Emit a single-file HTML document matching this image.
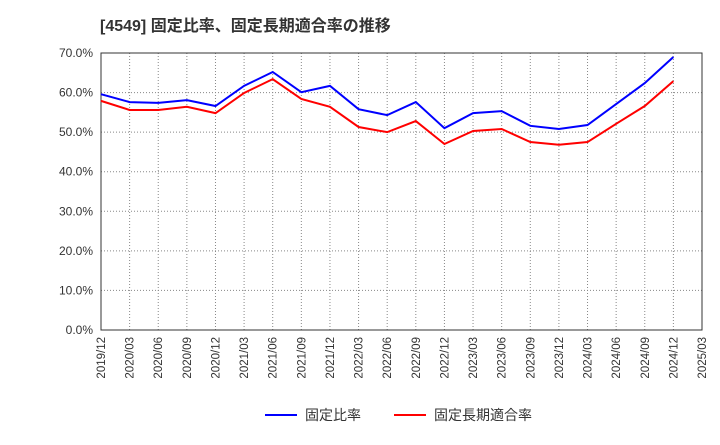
<!DOCTYPE html>
<html><head><meta charset="utf-8"><style>
body{margin:0;background:#fff;width:720px;height:440px;overflow:hidden;font-family:"Liberation Sans","Noto Sans CJK JP",sans-serif;}
</style></head><body>
<svg id="chart" width="720" height="440" xmlns="http://www.w3.org/2000/svg">
<text x="100" y="31" font-size="16" font-weight="bold" fill="#333" font-family="Liberation Sans, Noto Sans CJK JP, sans-serif">[4549]  固定比率、固定長期適合率の推移</text>
<g id="grid"></g><g id="axes"></g><g id="series"></g>
<g>
<line x1="265" y1="415" x2="297" y2="415" stroke="#0000ff" stroke-width="2"/>
<text x="305" y="420" font-size="14" fill="#333" font-family="Liberation Sans, Noto Sans CJK JP, sans-serif">固定比率</text>
<line x1="394" y1="415" x2="426" y2="415" stroke="#ff0000" stroke-width="2"/>
<text x="434" y="420" font-size="14" fill="#333" font-family="Liberation Sans, Noto Sans CJK JP, sans-serif">固定長期適合率</text>
</g>
</svg>
<script>
const categories=["2019/12","2020/03","2020/06","2020/09","2020/12","2021/03","2021/06","2021/09","2021/12","2022/03","2022/06","2022/09","2022/12","2023/03","2023/06","2023/09","2023/12","2024/03","2024/06","2024/09","2024/12","2025/03"];
const fixedRatio=[59.6,57.6,57.4,58.1,56.6,61.7,65.2,60.1,61.7,55.8,54.3,57.6,51.0,54.8,55.3,51.6,50.8,51.8,57.1,62.4,69.0];
const longTermRatio=[57.9,55.6,55.6,56.4,54.8,59.9,63.4,58.4,56.4,51.3,50.0,52.8,47.0,50.3,50.8,47.5,46.8,47.5,52.1,56.6,62.9];
const yTicks=[0,10,20,30,40,50,60,70];
const NS="http://www.w3.org/2000/svg";
const L=101,R=702,T=53,B=330;
const xS=i=>L+(R-L)*i/(categories.length-1);
const yS=v=>B-(B-T)*v/70;
function mk(tag,attrs,parent){const e=document.createElementNS(NS,tag);for(const k in attrs)e.setAttribute(k,attrs[k]);parent.appendChild(e);return e;}
const grid=document.getElementById('grid'),axes=document.getElementById('axes'),series=document.getElementById('series');
yTicks.forEach(v=>{
 const g=mk('line',{x1:L,x2:R,y1:yS(v),y2:yS(v),stroke:'#888','stroke-dasharray':'1,2'},grid);
 
 
 const t=mk('text',{x:L-8,y:yS(v)+4,'text-anchor':'end','font-size':12,fill:'#333'},axes);
 t.textContent=v.toFixed(1)+'%';
 
 
});
categories.forEach((c,i)=>{
 const x=xS(i);
 const g=mk('line',{x1:x,x2:x,y1:T,y2:B,stroke:'#888','stroke-dasharray':'1,2'},grid);
 
 
 const t=mk('text',{x:x+4,y:B+7,'text-anchor':'end','font-size':11.5,fill:'#333',transform:`rotate(-90 ${x+4} ${B+7})`},axes);
 t.textContent=c;
 
 
});
const frame=mk('rect',{x:L,y:T,width:R-L,height:B-T,fill:'none',stroke:'#333','stroke-width':1},axes);


function line(vals,color,name){
 const p=mk('polyline',{points:vals.map((v,i)=>xS(i)+','+yS(v)).join(' '),fill:'none',stroke:color,'stroke-width':2},series);
 
 
}
line(longTermRatio,'#ff0000','long-term-ratio-line');
line(fixedRatio,'#0000ff','fixed-ratio-line');
</script>
</body></html>
